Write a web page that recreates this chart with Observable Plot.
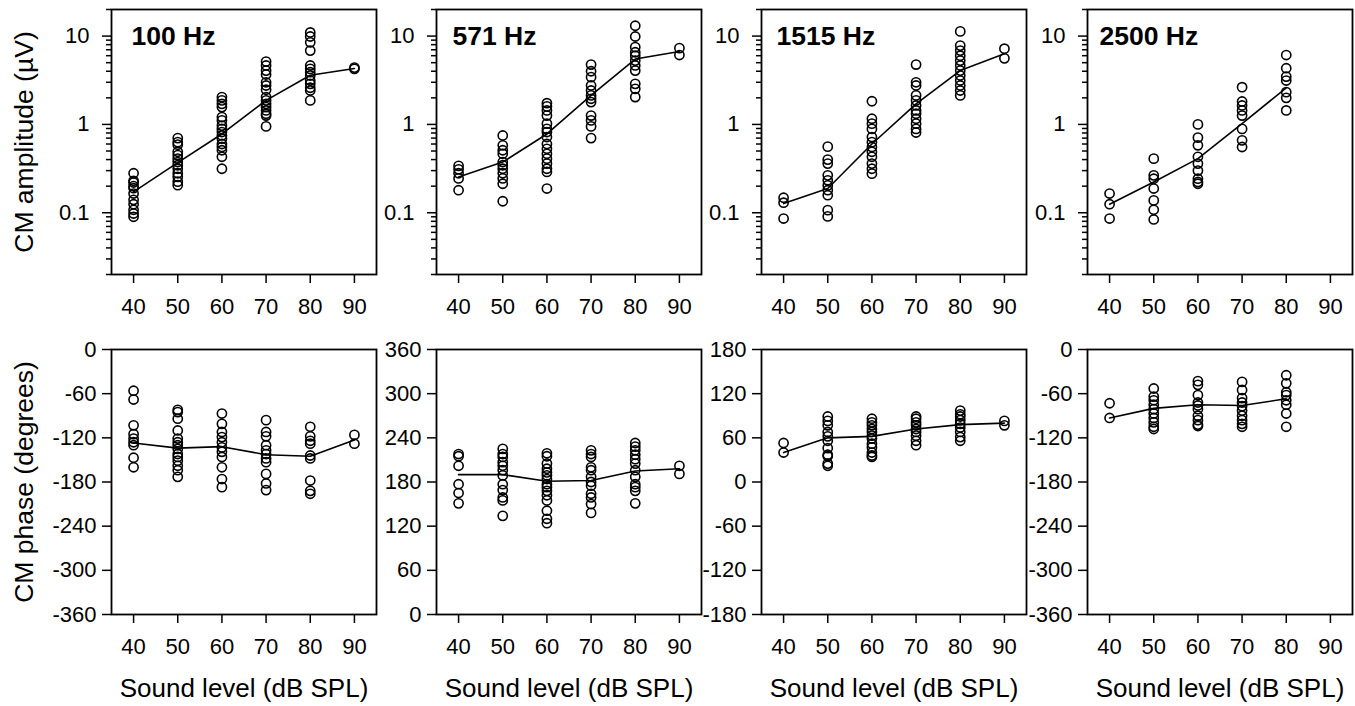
<!DOCTYPE html>
<html>
<head>
<meta charset="utf-8">
<script src="https://cdn.jsdelivr.net/npm/d3@7"></script>
<script src="https://cdn.jsdelivr.net/npm/@observablehq/plot@0.6"></script>
<style>
  body { margin: 0; background: #fff; }
  #chart { position: relative; width: 1355px; height: 706px; overflow: hidden; background: #fff; }
  #chart svg { position: absolute; }
</style>
</head>
<body>
<div id="chart"></div>
<script>
// ---------------- DATA ----------------
const levels = [40, 50, 60, 70, 80, 90];
const frequencies = ["100 Hz", "571 Hz", "1515 Hz", "2500 Hz"];
const ampTicks = [0.1, 1, 10];
const phaseTicks100 = [0, -60, -120, -180, -240, -300, -360];
const phaseTicks571 = [0, 60, 120, 180, 240, 300, 360];
const phaseTicks1515 = [-180, -120, -60, 0, 60, 120, 180];
const phaseTicks2500 = [0, -60, -120, -180, -240, -300, -360];

// CM amplitude (µV), one list per sound level (40..90 dB SPL)
const amp100 = [
  [0.28, 0.23, 0.22, 0.20, 0.19, 0.165, 0.14, 0.125, 0.108, 0.098, 0.09],
  [0.70, 0.63, 0.59, 0.49, 0.45, 0.41, 0.375, 0.345, 0.315, 0.28, 0.255, 0.225, 0.205],
  [2.04, 1.87, 1.71, 1.57, 1.21, 1.11, 0.97, 0.89, 0.82, 0.75, 0.69, 0.6, 0.555, 0.51, 0.43, 0.315],
  [5.15, 4.65, 4.07, 3.67, 3.0, 2.76, 2.47, 2.04, 1.87, 1.71, 1.57, 1.44, 1.32, 1.26, 0.95],
  [11.0, 9.9, 8.5, 6.85, 4.65, 4.25, 3.9, 3.58, 3.14, 2.88, 2.6, 2.42, 1.87],
  [4.4, 4.25]
];
const ampMean100 = [0.172, 0.37, 0.78, 1.87, 3.6, 4.3];

const amp571 = [
  [0.34, 0.31, 0.28, 0.245, 0.18],
  [0.75, 0.58, 0.51, 0.465, 0.375, 0.345, 0.315, 0.28, 0.245, 0.213, 0.135],
  [1.74, 1.6, 1.44, 1.26, 1.02, 0.89, 0.82, 0.72, 0.6, 0.53, 0.465, 0.41, 0.36, 0.315, 0.29, 0.188],
  [4.76, 4.0, 3.43, 2.76, 2.42, 2.13, 1.95, 1.79, 1.26, 1.11, 0.95, 0.70],
  [13.1, 9.9, 7.5, 6.56, 6.0, 5.28, 4.65, 4.07, 2.88, 2.53, 2.04],
  [7.3, 6.1]
];
const ampMean571 = [0.254, 0.375, 0.78, 2.13, 5.5, 6.7];

const amp1515 = [
  [0.148, 0.13, 0.086],
  [0.56, 0.4, 0.36, 0.265, 0.233, 0.204, 0.18, 0.158, 0.107, 0.091],
  [1.83, 1.16, 1.02, 0.89, 0.72, 0.63, 0.555, 0.49, 0.43, 0.36, 0.315, 0.277],
  [4.76, 3.0, 2.76, 2.13, 1.87, 1.64, 1.44, 1.32, 1.16, 1.02, 0.89, 0.81],
  [11.3, 7.8, 6.85, 6.0, 5.28, 4.65, 4.07, 3.58, 3.14, 2.76, 2.42, 2.13],
  [7.2, 5.6]
];
const ampMean1515 = [0.127, 0.188, 0.6, 1.71, 4.07, 6.3];

const amp2500 = [
  [0.165, 0.125, 0.086],
  [0.41, 0.265, 0.243, 0.188, 0.138, 0.108, 0.084],
  [1.0, 0.71, 0.58, 0.43, 0.36, 0.30, 0.243, 0.223, 0.213],
  [2.64, 1.82, 1.64, 1.44, 1.26, 0.89, 0.66, 0.555],
  [6.1, 4.33, 3.48, 3.14, 2.32, 2.0, 1.44],
  []
];
const ampMean2500 = [0.125, 0.223, 0.41, 1.02, 2.6];

// CM phase (degrees), one list per sound level
const phase100 = [
  [-56, -68, -103, -115, -121, -126, -130, -147, -160],
  [-82, -85, -94, -110, -121, -126, -130, -135, -142, -146, -151, -158, -164, -173],
  [-87, -101, -112, -119, -126, -133, -139, -146, -160, -176, -187],
  [-96, -112, -118, -130, -137, -142, -148, -153, -169, -182, -191],
  [-105, -118, -124, -128, -144, -148, -178, -192, -196],
  [-116, -128]
];
const phaseMean100 = [-127, -134, -132, -143, -145, -123];

const phase571 = [
  [218, 215, 202, 177, 165, 151],
  [225, 218, 214, 207, 202, 196, 189, 177, 169, 159, 155, 134],
  [219, 215, 205, 198, 193, 189, 184, 177, 173, 168, 162, 155, 141, 130, 124],
  [223, 218, 214, 200, 196, 187, 180, 175, 164, 159, 150, 138],
  [233, 228, 223, 217, 211, 205, 196, 187, 177, 173, 168, 151],
  [202, 191]
];
const phaseMean571 = [190, 190, 181, 182, 195, 198];

const phase1515 = [
  [53, 40],
  [89, 83, 77, 68, 62, 56, 46, 37, 35, 25, 22],
  [86, 81, 77, 72, 68, 63, 59, 52, 47, 40, 36, 34],
  [89, 86, 81, 77, 72, 68, 63, 56, 50],
  [97, 92, 89, 84, 79, 74, 68, 61, 56],
  [83, 77]
];
const phaseMean1515 = [40, 60, 62, 72, 78, 80];

const phase2500 = [
  [-73, -93],
  [-53, -64, -69, -75, -81, -87, -93, -99, -105, -108],
  [-43, -48, -62, -72, -76, -81, -90, -96, -102, -104],
  [-44, -55, -66, -72, -77, -83, -90, -96, -101, -105],
  [-35, -46, -58, -62, -69, -75, -87, -105],
  []
];
const phaseMean2500 = [-93, -80, -75, -76, -67];

// ---------------- LAYOUT ----------------
const FONT = '"Liberation Sans", Arial, Helvetica, sans-serif';
const frameLefts = [111, 436, 761, 1087];
const FW = 265, FH = 265;
const titleDx = [20, 16, 15, 12];
const TICKFONT = 22;
const chart = document.getElementById("chart");

// minor log ticks (2..9 of each decade) inside the amplitude domain
const minorTicks = [];
[0.01, 0.1, 1, 10].forEach(d => { for (let m = 2; m <= 9; m++) { const v = +(d * m).toPrecision(3); if (v >= 0.02 && v <= 20) minorTicks.push(v); } });

function toPoints(values) {
  const pts = [];
  values.forEach((arr, i) => arr.forEach(v => pts.push({level: levels[i], value: v})));
  return pts;
}
function toLine(means) {
  return means.map((v, i) => ({level: levels[i], value: v}));
}

function makePanel(col, row, values, means, yScale, yAxisMarks) {
  const mL = col === 0 ? 111 : 100;
  const mT = row === 0 ? 9 : 20;
  const mB = row === 0 ? 50 : 92;
  const mR = 4;
  const marks = [
    Plot.frame({stroke: "black", strokeWidth: 1.8}),
    Plot.axisX({ticks: levels, tickSize: 9, tickPadding: 15, tickFormat: d => String(d), label: null, strokeWidth: 1.5, fontSize: TICKFONT}),
    ...yAxisMarks,
    Plot.line(toLine(means), {x: "level", y: "value", stroke: "black", strokeWidth: 1.6}),
    Plot.dot(toPoints(values), {x: "level", y: "value", r: 4.6, stroke: "black", strokeWidth: 1.6, fill: "none"})
  ];
  if (row === 0) {
    marks.push(Plot.text([frequencies[col]], {text: d => d, frameAnchor: "top-left", dx: titleDx[col], dy: 27, textAnchor: "start", lineAnchor: "middle", fontSize: 26.5, fontWeight: "bold", fill: "black"}));
  } else {
    marks.push(Plot.text(["Sound level (dB SPL)"], {text: d => d, frameAnchor: "bottom", dy: 74, textAnchor: "middle", lineAnchor: "middle", fontSize: 26, fill: "black"}));
  }
  if (col === 0) {
    const lab = row === 0 ? "CM amplitude (µV)" : "CM phase (degrees)";
    marks.push(Plot.text([lab], {text: d => d, frameAnchor: "left", dx: -87, rotate: -90, textAnchor: "middle", lineAnchor: "middle", fontSize: 26.5, fill: "black"}));
  }
  const svg = Plot.plot({
    width: mL + FW + mR,
    height: mT + FH + mB,
    marginLeft: mL, marginRight: mR, marginTop: mT, marginBottom: mB,
    x: {domain: [35, 95]},
    y: yScale,
    style: {background: "transparent", overflow: "visible", fontFamily: FONT, fontSize: TICKFONT + "px", color: "black"},
    marks
  });
  svg.style.left = (frameLefts[col] - mL) + "px";
  svg.style.top = (row === 0 ? 0 : 329) + "px";
  svg.style.maxWidth = "none";
  chart.appendChild(svg);
}

const ampAxes = () => [
  Plot.axisY({ticks: minorTicks, tickSize: 5, tickFormat: () => "", label: null, strokeWidth: 1.5}),
  Plot.axisY({ticks: ampTicks, tickSize: 9, tickPadding: 13, tickFormat: d => String(d), label: null, strokeWidth: 1.5, fontSize: TICKFONT})
];
const phaseAxes = (ticks) => [
  Plot.axisY({ticks, tickSize: 9, tickPadding: 6, tickFormat: d => String(d), label: null, strokeWidth: 1.5, fontSize: TICKFONT})
];

const ampSets = [[amp100, ampMean100], [amp571, ampMean571], [amp1515, ampMean1515], [amp2500, ampMean2500]];
const phaseSets = [
  [phase100, phaseMean100, [-360, 0], phaseTicks100],
  [phase571, phaseMean571, [0, 360], phaseTicks571],
  [phase1515, phaseMean1515, [-180, 180], phaseTicks1515],
  [phase2500, phaseMean2500, [-360, 0], phaseTicks2500]
];

ampSets.forEach(([vals, means], c) => {
  makePanel(c, 0, vals, means, {type: "log", domain: [0.02, 20]}, ampAxes());
});
phaseSets.forEach(([vals, means, dom, ticks], c) => {
  makePanel(c, 1, vals, means, {domain: dom}, phaseAxes(ticks));
});
</script>
</body>
</html>
